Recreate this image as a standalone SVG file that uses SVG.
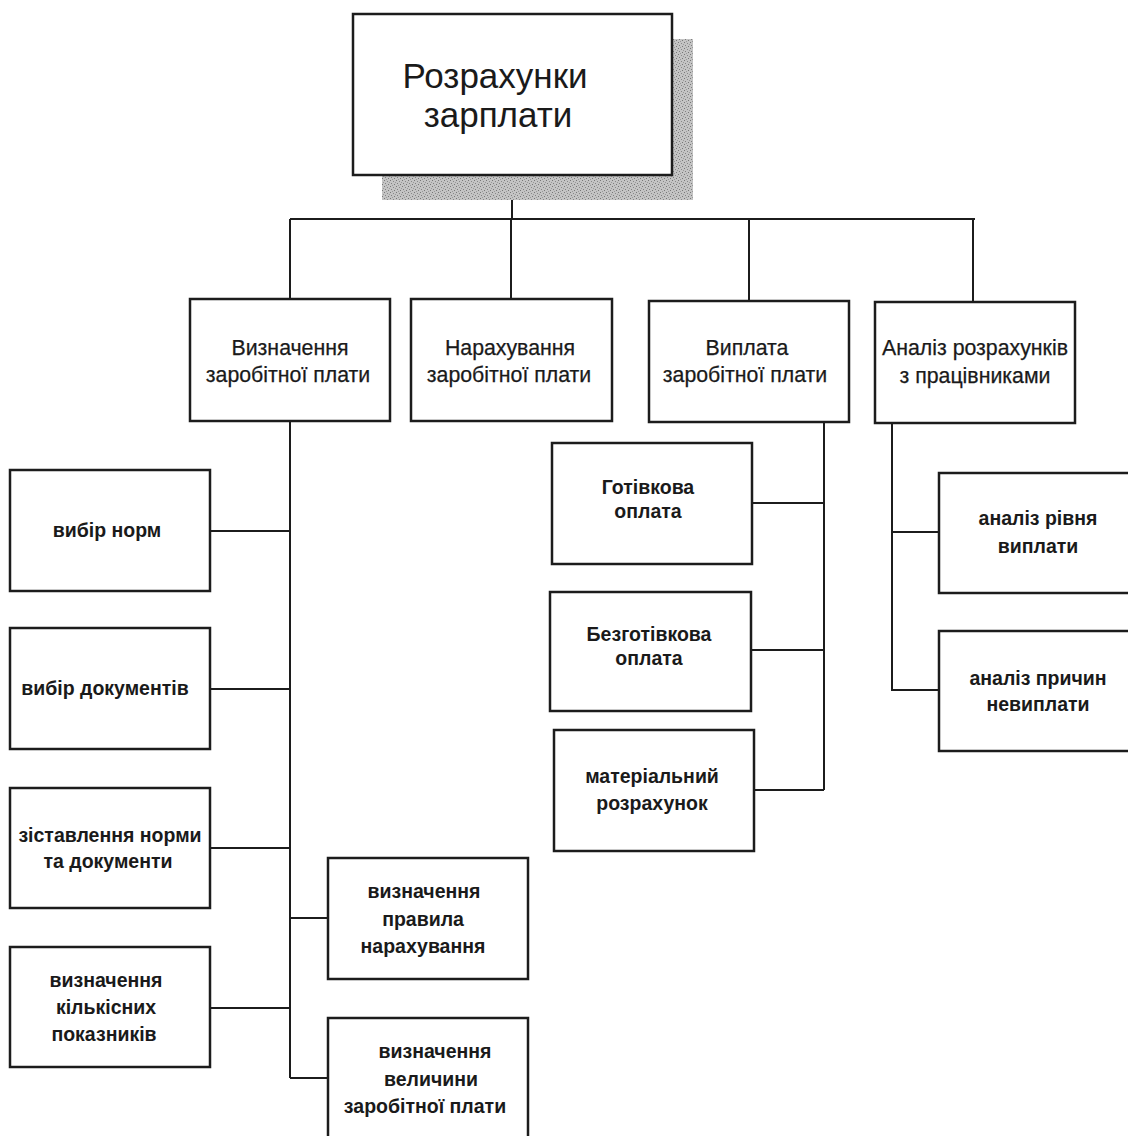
<svg xmlns="http://www.w3.org/2000/svg" width="1128" height="1136" viewBox="0 0 1128 1136">
  <defs>
    <!-- stippled grey used for the drop shadow of the root box -->
    <pattern id="dither" width="6" height="6" patternUnits="userSpaceOnUse">
      <rect width="6" height="6" fill="#c4c4c4"/>
      <rect x="0" y="0" width="1" height="1" fill="#777"/>
      <rect x="3" y="1" width="1" height="1" fill="#888"/>
      <rect x="1" y="3" width="1" height="1" fill="#808080"/>
      <rect x="4" y="4" width="1" height="1" fill="#777"/>
      <rect x="5" y="2" width="1" height="1" fill="#999"/>
      <rect x="2" y="5" width="1" height="1" fill="#999"/>
    </pattern>
    <style>
      .box { fill: #fff; stroke: #1c1c1c; stroke-width: 2.5; }
      .wire { fill: none; stroke: #1c1c1c; stroke-width: 2; }
      .t { font-family: "Liberation Sans", Arial, sans-serif; fill: #1a1a1a; text-anchor: middle; }
      .root { font-size: 35px; }
      .lvl { font-size: 21.3px; stroke: #1a1a1a; stroke-width: 0.25; }
      .leaf { font-size: 19.5px; font-weight: bold; }
    </style>
  </defs>

  <rect width="1128" height="1136" fill="#fff"/>

  <!-- connectors -->
  <g id="connectors" class="wire">
    <path d="M512 175 V219 M290 219 H975 M290 219 V299 M511 219 V299 M749 219 V301 M973 219 V302"/>
    <!-- branch: Визначення -->
    <path d="M290 421 V1078 M210 531 H290 M210 689 H290 M210 848 H290 M210 1008 H290 M290 918 H328 M290 1078 H328"/>
    <!-- branch: Виплата -->
    <path d="M824 422 V790 M752 503 H824 M751 650 H824 M754 790 H824"/>
    <!-- branch: Аналіз -->
    <path d="M892 423 V690 H939 M892 532 H939"/>
  </g>

  <!-- root -->
  <g id="n-root">
    <rect x="382" y="39" width="311" height="161" fill="url(#dither)"/>
    <rect class="box" x="353" y="14" width="319" height="161"/>
    <text class="t root" x="495" y="88">Розрахунки</text>
    <text class="t root" x="498" y="127">зарплати</text>
  </g>

  <!-- second level -->
  <g id="n-vyznachennia">
    <rect class="box" x="190" y="299" width="200" height="122"/>
    <text class="t lvl" x="290" y="355">Визначення</text>
    <text class="t lvl" x="288" y="382">заробітної плати</text>
  </g>
  <g id="n-narakhuvannia">
    <rect class="box" x="411" y="299" width="201" height="122"/>
    <text class="t lvl" x="510" y="355">Нарахування</text>
    <text class="t lvl" x="509" y="382">заробітної плати</text>
  </g>
  <g id="n-vyplata">
    <rect class="box" x="649" y="301" width="200" height="121"/>
    <text class="t lvl" x="747" y="355">Виплата</text>
    <text class="t lvl" x="745" y="382">заробітної плати</text>
  </g>
  <g id="n-analiz">
    <rect class="box" x="875" y="302" width="200" height="121"/>
    <text class="t lvl" x="975" y="355">Аналіз розрахунків</text>
    <text class="t lvl" x="975" y="383">з працівниками</text>
  </g>

  <!-- leaves under Визначення -->
  <g id="n-vybir-norm">
    <rect class="box" x="10" y="470" width="200" height="121"/>
    <text class="t leaf" x="107" y="537">вибір норм</text>
  </g>
  <g id="n-vybir-dokumentiv">
    <rect class="box" x="10" y="628" width="200" height="121"/>
    <text class="t leaf" x="105" y="695">вибір документів</text>
  </g>
  <g id="n-zistavlennia">
    <rect class="box" x="10" y="788" width="200" height="120"/>
    <text class="t leaf" x="110" y="842">зіставлення норми</text>
    <text class="t leaf" x="108" y="868">та документи</text>
  </g>
  <g id="n-kilkisni">
    <rect class="box" x="10" y="947" width="200" height="120"/>
    <text class="t leaf" x="106" y="987">визначення</text>
    <text class="t leaf" x="106" y="1014">кількісних</text>
    <text class="t leaf" x="104" y="1041">показників</text>
  </g>
  <g id="n-pravyla">
    <rect class="box" x="328" y="858" width="200" height="121"/>
    <text class="t leaf" x="424" y="898">визначення</text>
    <text class="t leaf" x="423" y="926">правила</text>
    <text class="t leaf" x="423" y="953">нарахування</text>
  </g>
  <g id="n-velychyna">
    <rect class="box" x="328" y="1018" width="200" height="130"/>
    <text class="t leaf" x="435" y="1058">визначення</text>
    <text class="t leaf" x="431" y="1086">величини</text>
    <text class="t leaf" x="425" y="1113">заробітної плати</text>
  </g>

  <!-- leaves under Виплата -->
  <g id="n-hotivkova">
    <rect class="box" x="552" y="443" width="200" height="121"/>
    <text class="t leaf" x="648" y="494">Готівкова</text>
    <text class="t leaf" x="648" y="518">оплата</text>
  </g>
  <g id="n-bezhotivkova">
    <rect class="box" x="550" y="592" width="201" height="119"/>
    <text class="t leaf" x="649" y="641">Безготівкова</text>
    <text class="t leaf" x="649" y="665">оплата</text>
  </g>
  <g id="n-materialnyi">
    <rect class="box" x="554" y="730" width="200" height="121"/>
    <text class="t leaf" x="652" y="783">матеріальний</text>
    <text class="t leaf" x="652" y="810">розрахунок</text>
  </g>

  <!-- leaves under Аналіз -->
  <g id="n-riven">
    <rect class="box" x="939" y="473" width="200" height="120"/>
    <text class="t leaf" x="1038" y="525">аналіз рівня</text>
    <text class="t leaf" x="1038" y="553">виплати</text>
  </g>
  <g id="n-prychyny">
    <rect class="box" x="939" y="631" width="200" height="120"/>
    <text class="t leaf" x="1038" y="685">аналіз причин</text>
    <text class="t leaf" x="1038" y="711">невиплати</text>
  </g>
</svg>
